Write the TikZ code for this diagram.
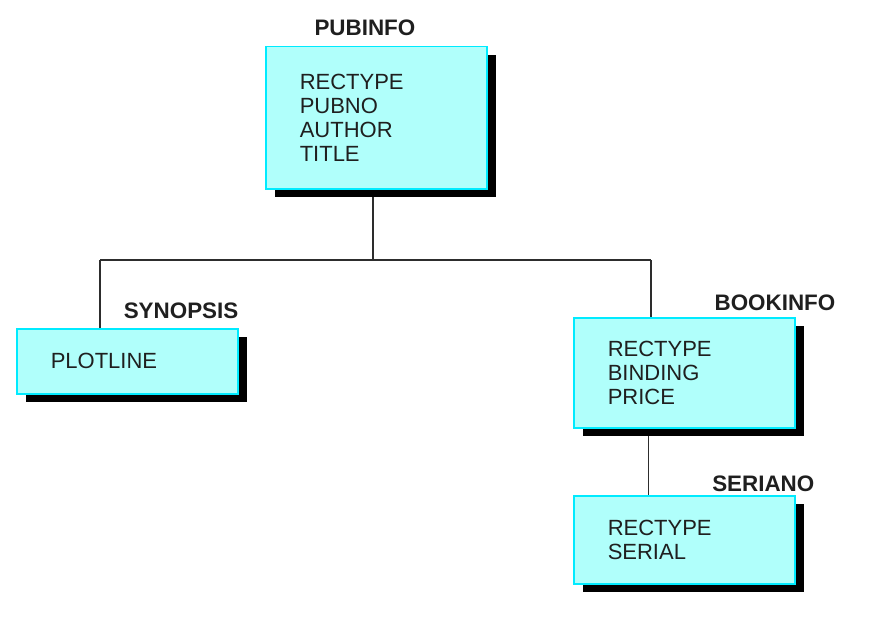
\documentclass[tikz,border=0pt]{standalone}
\usepackage{fontspec}
\setsansfont{Liberation Sans}
\usepackage{tikz}
\usetikzlibrary{positioning, shadows, backgrounds, calc}
\usepackage{xcolor}
\definecolor{recfill}{RGB}{176,255,251}
\definecolor{recedge}{RGB}{0,235,255}
\definecolor{linkgray}{RGB}{45,45,45}

\begin{document}
\begin{tikzpicture}[
    x=1pt, y=-1pt,
    rec/.style={rectangle, draw=recedge, fill=recfill, line width=1.5pt, anchor=north west,
                minimum width=221pt, text width=153pt, inner xsep=34pt, inner ysep=0pt, align=left,
                font=\sffamily\fontsize{22}{24}\selectfont, text=black!88,
                drop shadow={shadow xshift=9pt, shadow yshift=-8pt, fill=black, opacity=1}},
    tag/.style={anchor=base east, inner sep=0pt, font=\sffamily\bfseries\fontsize{22.4}{24}\selectfont, text=black!88},
    link/.style={draw=linkgray, line width=1.3pt},
]
    \useasboundingbox (0,0) rectangle (882,623);

    % record boxes
    \node[rec, minimum height=142pt] (pubinfo) at (265,46) {RECTYPE\\PUBNO\\AUTHOR\\TITLE};
    \node[rec, minimum height=65pt] (synopsis) at (16,328) {PLOTLINE};
    \node[rec, minimum height=110pt] (bookinfo) at (573,317) {RECTYPE\\BINDING\\PRICE};
    \node[rec, minimum height=88pt] (seriano) at (573,495) {RECTYPE\\SERIAL};

    % segment names
    \node[tag] (pubinfotag) at ([xshift=-72pt, yshift=10pt]pubinfo.north east) {PUBINFO};
    \node[tag] (synopsistag) at ([yshift=10pt]synopsis.north east) {SYNOPSIS};
    \node[tag] (bookinfotag) at ([xshift=40pt, yshift=7pt]bookinfo.north east) {BOOKINFO};
    \node[tag] (serianotag) at ([xshift=19pt, yshift=4pt]seriano.north east) {SERIANO};

    % tree lines
    \coordinate (split) at (373,260);
    \coordinate (lefttap) at (100,260);
    \coordinate (righttap) at (651,260);
    \begin{scope}[on background layer]
        \draw[link] (pubinfo.south -| split) -- (split);
        \draw[link] (lefttap) -- (righttap);
        \draw[link] (lefttap) -- (lefttap |- synopsis.north);
        \draw[link] (righttap) -- (righttap |- bookinfo.north);
        \draw[link] ([xshift=-36pt]bookinfo.south) -- ([xshift=-36pt]bookinfo.south |- seriano.north);
    \end{scope}
\end{tikzpicture}
\end{document}
